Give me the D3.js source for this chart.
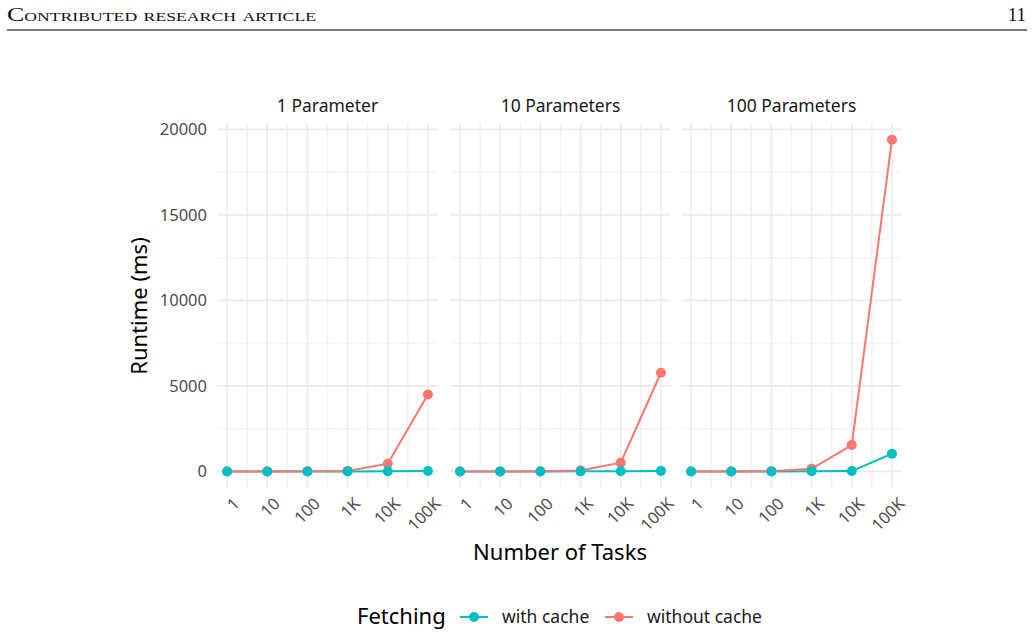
<!DOCTYPE html>
<html lang="en">
<head>
<meta charset="utf-8">
<script src="https://d3js.org/d3.v7.min.js"></script>
<style>
  body { margin: 0; background: #fff; }
  svg { display: block; font-family: "Noto Sans", sans-serif; }
  .grid-major { stroke: #ebebeb; stroke-width: 1.6; }
  .grid-minor { stroke: #f1f1f1; stroke-width: 1.4; }
  .tick-label { fill: #4d4d4d; font-size: 16.5px; }
</style>
</head>
<body>
<script>
// data
var taskLabels = ["1", "10", "100", "1K", "10K", "100K"];
var taskLog = [0, 1, 2, 3, 4, 5];
var panels = ["1 Parameter", "10 Parameters", "100 Parameters"];
var series = ["with cache", "without cache"];
var colors = ["#00BFC4", "#F8766D"];
var withCache = [
  [0, 0, 0, 2, 5, 20],
  [0, 0, 0, 3, 8, 30],
  [0, 0, 1, 5, 20, 1035]
];
var withoutCache = [
  [0, 1, 5, 30, 450, 4500],
  [0, 1, 5, 50, 510, 5770],
  [0, 2, 10, 150, 1540, 19400]
];
var yTicks = [0, 5000, 10000, 15000, 20000];
var yMinor = [2500, 7500, 12500, 17500];

var W = 1033, H = 636;
var svg = d3.select("body").append("svg").attr("width", W).attr("height", H);

// page header
svg.append("text").attr("x", 7).attr("y", 21)
  .style("font-family", "'Liberation Serif', serif")
  .style("font-variant", "small-caps")
  .style("font-size", "19px").attr("fill", "#111")
  .attr("textLength", 309).attr("lengthAdjust", "spacingAndGlyphs")
  .text("Contributed research article");
svg.append("text").attr("x", 1026).attr("y", 21).attr("text-anchor", "end")
  .style("font-family", "'Liberation Serif', serif")
  .style("font-size", "19px").attr("fill", "#111")
  .text("11");
svg.append("line").attr("x1", 7).attr("x2", 1027).attr("y1", 30).attr("y2", 30)
  .attr("stroke", "#7a7a7a").attr("stroke-width", 2);

var panelLeft = [217, 450, 681];
var panelW = 221;
var plotTop = 123, plotBottom = 488;

var y = d3.scaleLinear().domain([-970, 20375]).range([plotBottom, plotTop]);

panels.forEach(function(name, p) {
  var x = d3.scaleLinear().domain([-0.25, 5.25]).range([panelLeft[p], panelLeft[p] + panelW]);
  var g = svg.append("g");

  // grid
  g.selectAll(".ym").data(yMinor).enter().append("line").attr("class", "grid-minor")
    .attr("x1", x.range()[0]).attr("x2", x.range()[1])
    .attr("y1", function(d) { return y(d); }).attr("y2", function(d) { return y(d); });
  g.selectAll(".xm").data([0.5, 1.5, 2.5, 3.5, 4.5]).enter().append("line").attr("class", "grid-minor")
    .attr("y1", plotTop).attr("y2", plotBottom)
    .attr("x1", function(d) { return x(d); }).attr("x2", function(d) { return x(d); });
  g.selectAll(".yM").data(yTicks).enter().append("line").attr("class", "grid-major")
    .attr("x1", x.range()[0]).attr("x2", x.range()[1])
    .attr("y1", function(d) { return y(d); }).attr("y2", function(d) { return y(d); });
  g.selectAll(".xM").data(taskLog).enter().append("line").attr("class", "grid-major")
    .attr("y1", plotTop).attr("y2", plotBottom)
    .attr("x1", function(d) { return x(d); }).attr("x2", function(d) { return x(d); });

  // strip title
  g.append("text").attr("x", (x.range()[0] + x.range()[1]) / 2).attr("y", 112)
    .attr("text-anchor", "middle").attr("fill", "#1a1a1a").style("font-size", "17.5px")
    .text(name);

  // x tick labels
  g.selectAll(".xl").data(taskLabels).enter().append("text").attr("class", "tick-label")
    .attr("text-anchor", "end")
    .attr("transform", function(d, i) { return "translate(" + (x(taskLog[i]) + 5) + "," + 496 + ") rotate(-45)"; })
    .attr("dy", "0.75em")
    .text(function(d) { return d; });

  // lines + points
  [withCache[p], withoutCache[p]].forEach(function(vals, s) {
    var line = d3.line().x(function(d, i) { return x(taskLog[i]); }).y(function(d) { return y(d); });
    g.append("path").datum(vals).attr("d", line).attr("fill", "none")
      .attr("stroke", colors[s]).attr("stroke-width", 2);
  });
  [withoutCache[p], withCache[p]].forEach(function(vals, k) {
    var s = k === 0 ? 1 : 0;
    g.selectAll(".pt" + s).data(vals).enter().append("circle")
      .attr("cx", function(d, i) { return x(taskLog[i]); })
      .attr("cy", function(d) { return y(d); })
      .attr("r", 5).attr("fill", colors[s]);
  });
});

// y tick labels
svg.selectAll(".yl").data(yTicks).enter().append("text").attr("class", "tick-label")
  .attr("x", 207).attr("y", function(d) { return y(d); }).attr("dy", "0.35em")
  .attr("text-anchor", "end").text(function(d) { return d; });

// axis titles
svg.append("text").attr("x", 560).attr("y", 560).attr("text-anchor", "middle")
  .style("font-size", "22px").attr("fill", "#000").text("Number of Tasks");
svg.append("text").attr("transform", "translate(147,306) rotate(-90)").attr("text-anchor", "middle")
  .style("font-size", "22px").attr("fill", "#000").text("Runtime (ms)");

// legend
var lg = svg.append("g");
lg.append("text").attr("x", 357).attr("y", 624).style("font-size", "22px").attr("fill", "#000").text("Fetching");
var keyX = [460, 605];
series.forEach(function(s, i) {
  lg.append("line").attr("x1", keyX[i]).attr("x2", keyX[i] + 28).attr("y1", 617).attr("y2", 617)
    .attr("stroke", colors[i]).attr("stroke-width", 2);
  lg.append("circle").attr("cx", keyX[i] + 14).attr("cy", 617).attr("r", 5).attr("fill", colors[i]);
  lg.append("text").attr("x", keyX[i] + 42).attr("y", 617).attr("dy", "0.35em")
    .style("font-size", "17.5px").attr("fill", "#1a1a1a").text(s);
});
</script>
</body>
</html>
